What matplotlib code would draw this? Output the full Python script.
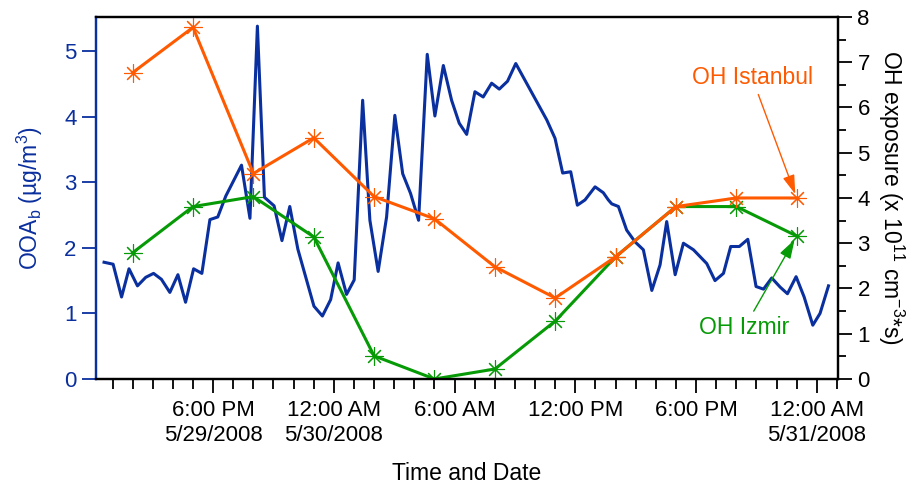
import numpy as np
import pandas as pd
import matplotlib
matplotlib.use("Agg")
import matplotlib.pyplot as plt
import matplotlib.dates as mdates
from matplotlib.ticker import FixedLocator, MultipleLocator

plt.rcParams['font.family'] = ['Liberation Sans', 'DejaVu Sans']
plt.rcParams['mathtext.default'] = 'regular'

# hours after 5/29/2008 00:00
ooa_hours = [12.58, 13.03, 13.45, 13.82, 14.24, 14.65, 15.04, 15.43, 15.85, 16.25,
             16.63, 17.03, 17.44, 17.84, 18.23, 18.63, 19.41, 19.83, 20.20, 20.55,
             21.03, 21.42, 21.81, 22.21, 23.01, 23.43, 23.84, 24.21, 24.63, 25.01,
             25.43, 25.79, 26.20, 26.62, 27.03, 27.42, 27.81, 28.21, 28.64, 29.02,
             29.44, 29.85, 30.23, 30.60, 31.01, 31.42, 31.84, 32.22, 32.63, 33.04,
             34.58, 34.99, 35.37, 35.77, 36.10, 36.48, 36.98, 37.39, 37.64, 37.81,
             38.14, 38.55, 38.97, 39.38, 39.80, 40.21, 40.54, 40.96, 41.37, 41.87,
             42.53, 42.94, 43.36, 43.72, 44.15, 44.57, 44.98, 45.35, 45.76, 46.18,
             46.54, 46.97, 47.37, 47.80, 48.16, 48.58]
ooa_b = [1.78, 1.75, 1.25, 1.68, 1.42, 1.55, 1.61, 1.52, 1.32, 1.59,
         1.17, 1.68, 1.61, 2.43, 2.47, 2.79, 3.26, 2.45, 5.38, 2.77,
         2.64, 2.11, 2.63, 1.98, 1.11, 0.96, 1.21, 1.77, 1.29, 1.51,
         4.25, 2.42, 1.64, 2.47, 4.02, 3.13, 2.83, 2.42, 4.95, 4.01,
         4.78, 4.25, 3.90, 3.73, 4.38, 4.30, 4.51, 4.42, 4.54, 4.81,
         3.95, 3.67, 3.14, 3.16, 2.65, 2.73, 2.93, 2.84, 2.73, 2.67,
         2.63, 2.27, 2.09, 1.97, 1.35, 1.74, 2.40, 1.59, 2.07, 1.97,
         1.76, 1.50, 1.61, 2.02, 2.02, 2.13, 1.41, 1.37, 1.54, 1.40,
         1.30, 1.56, 1.25, 0.82, 1.00, 1.42]

oh_hours = [14, 17, 20, 23, 26, 29, 32, 35, 38, 41, 44, 47]
oh_istanbul = [6.77, 7.77, 4.54, 5.33, 4.03, 3.54, 2.48, 1.79, 2.70, 3.81, 4.00, 4.00]
oh_izmir = [2.79, 3.81, 4.03, 3.14, 0.51, 0.00, 0.22, 1.28, 2.70, 3.81, 3.81, 3.16]

tick_hours = [18, 24, 30, 36, 42, 48]
tick_labels = ["6:00 PM\n5/29/2008", "12:00 AM\n5/30/2008", "6:00 AM",
               "12:00 PM", "6:00 PM", "12:00 AM\n5/31/2008"]

start = pd.Timestamp("2008-05-29")
to_time = lambda h: start + pd.to_timedelta(np.asarray(h, dtype=float), unit="h")
to_num = lambda h: mdates.date2num(to_time([h])[0])

blue = "#0a2f9e"
orange = "#ff5a00"
green = "#069a06"

fig = plt.figure(figsize=(9.17, 4.86), dpi=100)
ax = fig.add_axes([0.1047, 0.2202, 0.8091, 0.7449])
ax2 = ax.twinx()

ax.plot(to_time(ooa_hours), ooa_b, color=blue, lw=2.2, zorder=3)
ax.set_ylim(0, 5.52)
ax.set_xlim(to_time([12.18])[0], to_time([49.05])[0])

star = (8, 2, 0)
ax2.plot(to_time(oh_hours), oh_izmir, color=green, lw=2.2, marker=star,
         ms=13, mew=0.8)
ax2.plot(to_time(oh_hours), oh_istanbul, color=orange, lw=2.2, marker=star,
         ms=13, mew=0.8)
ax2.set_ylim(0, 8)

# x axis: labelled ticks every 6 h, minor ticks every hour
ax.xaxis.set_major_locator(FixedLocator(mdates.date2num(to_time(tick_hours))))
ax.set_xticklabels(tick_labels, linespacing=1.25)
ax.xaxis.set_minor_locator(mdates.HourLocator())
ax.tick_params(axis="x", which="major", length=10, width=1.3, labelsize=16, pad=5)
ax.tick_params(axis="x", which="minor", length=7, width=1.3)
ax.set_xlabel("Time and Date", fontsize=16.5, labelpad=12)

# left axis in blue
ax.yaxis.set_major_locator(MultipleLocator(1))
ax.tick_params(axis="y", colors=blue, length=10, width=1.3, labelsize=16, pad=4)
ax.spines["left"].set_color(blue)
ax.set_ylabel(r"OOA$_{b}$ (µg/m$^{3}$)", color=blue, fontsize=16.5, labelpad=14)

# right axis in black with half-unit minor ticks
ax2.yaxis.set_major_locator(MultipleLocator(1))
ax2.yaxis.set_minor_locator(MultipleLocator(0.5))
ax2.tick_params(axis="y", which="major", length=10, width=1.3, labelsize=16, pad=4)
ax2.tick_params(axis="y", which="minor", length=6, width=1.3)
ax2.set_ylabel(r"OH exposure (x 10$^{11}$ cm$^{-3}$*s)", fontsize=16.5,
               rotation=-90, labelpad=26)

for a in (ax, ax2):
    for s in a.spines.values():
        s.set_linewidth(1.6)
ax2.spines["left"].set_color(blue)

arrow = "-|>,head_length=0.7,head_width=0.22"
ax2.annotate("OH Istanbul", xy=(to_num(47), 4.0), xytext=(to_num(44.78), 6.66),
             color=orange, fontsize=16.5, ha="center", va="center",
             arrowprops=dict(arrowstyle=arrow, color=orange, lw=1.0,
                             shrinkA=2, shrinkB=3))
ax2.annotate("OH Izmir", xy=(to_num(47), 3.16), xytext=(to_num(44.39), 1.13),
             color=green, fontsize=16.5, ha="center", va="center",
             arrowprops=dict(arrowstyle=arrow, color=green, lw=1.0,
                             shrinkA=2, shrinkB=3))

fig.savefig("out.png", dpi=100)
